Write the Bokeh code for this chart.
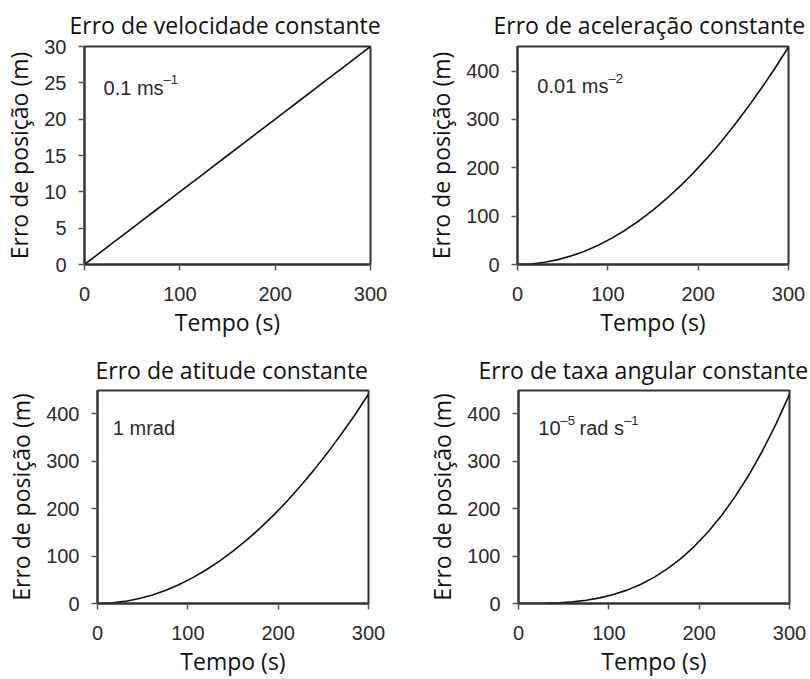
from bokeh.plotting import figure
from bokeh.layouts import column, row
from bokeh.models import Range1d, Label, FixedTicker
from bokeh.embed import file_html
from bokeh.resources import INLINE

# ---- data ----
time_s = [0, 15, 30, 45, 60, 75, 90, 105, 120, 135, 150,
          165, 180, 195, 210, 225, 240, 255, 270, 285, 300]
vel_err = [0, 1.5, 3, 4.5, 6, 7.5, 9, 10.5, 12, 13.5, 15,
           16.5, 18, 19.5, 21, 22.5, 24, 25.5, 27, 28.5, 30]
acc_err = [0, 1.1, 4.5, 10.1, 18, 28.1, 40.5, 55.1, 72, 91.1, 112.5,
           136.1, 162, 190.1, 220.5, 253.1, 288, 325.1, 364.5, 406.1, 450]
att_err = [0, 1.1, 4.4, 9.9, 17.6, 27.6, 39.7, 54, 70.6, 89.3, 110.3,
           133.4, 158.8, 186.3, 216.1, 248.1, 282.2, 318.6, 357.2, 398, 441]
rate_err = [0, 0.06, 0.44, 1.5, 3.5, 6.9, 11.9, 18.9, 28.2, 40.2, 55.1,
            73.4, 95.3, 121.1, 151.3, 186, 225.8, 270.8, 321.5, 378.1, 441]

titles = ["Erro de velocidade constante", "Erro de aceleração constante",
          "Erro de atitude constante", "Erro de taxa angular constante"]
# annotation texts: (text, is_superscript) segments
notes = [
    [("0.1 ms", False), ("–1", True)],
    [("0.01 ms", False), ("–2", True)],
    [("1 mrad", False)],
    [("10", False), ("–5", True), (" rad s", False), ("–1", True)],
]
x_ticks = [0, 100, 200, 300]
y_ticks_vel = [0, 5, 10, 15, 20, 25, 30]
y_ticks_pos = [0, 100, 200, 300, 400]
x_label = "Tempo (s)"
y_label = "Erro de posição (m)"

TITLE_FONT = "Open Sans"
TICK_FONT = "Liberation Sans"
NOTE_SIZE = 20
SUP_SIZE = 13

# Liberation Sans (Arial-metric) advance widths, per em
ADV = {"0": .556, "1": .556, "2": .556, "5": .556, ".": .278, " ": .278,
       "m": .833, "s": .5, "r": .333, "a": .556, "d": .556, "–": .556}


def text_width(s, size):
    return sum(ADV.get(c, .556) for c in s) * size


def make_fig(w, h, ml, mr, mt, mb, ymax, yticks, title, title_off, title_standoff,
             series, note, nx, ny):
    p = figure(width=w, height=h, x_range=Range1d(0, 300), y_range=Range1d(0, ymax),
               output_backend="svg", toolbar_location=None,
               min_border_left=ml, min_border_right=mr,
               min_border_top=mt, min_border_bottom=mb)
    p.title.text = title
    p.title.align = "left"
    p.title.offset = title_off
    p.title.text_font = TITLE_FONT
    p.title.text_font_size = "23px"
    p.title.text_font_style = "normal"
    p.title.text_color = "#111111"
    p.title.standoff = title_standoff
    p.grid.visible = False
    p.outline_line_color = "#333333"
    p.outline_line_width = 2
    p.background_fill_color = "white"
    p.border_fill_color = "white"
    for ax in (p.xaxis[0], p.yaxis[0]):
        ax.axis_line_color = "#333333"
        ax.axis_line_width = 2
        ax.major_tick_line_color = "#555555"
        ax.major_tick_line_width = 1.5
        ax.major_tick_out = 6
        ax.major_tick_in = 0
        ax.minor_tick_line_color = None
        ax.major_label_text_font = TICK_FONT
        ax.major_label_text_font_size = "20px"
        ax.major_label_text_color = "#2a2a2a"
        ax.axis_label_text_font = TITLE_FONT
        ax.axis_label_text_font_size = "23px"
        ax.axis_label_text_font_style = "normal"
        ax.axis_label_text_color = "#111111"
    p.xaxis.ticker = FixedTicker(ticks=x_ticks)
    p.yaxis.ticker = FixedTicker(ticks=yticks)
    p.xaxis.axis_label = x_label
    p.yaxis.axis_label = y_label
    p.xaxis.major_label_standoff = 16
    p.yaxis.major_label_standoff = 12
    p.xaxis.axis_label_standoff = 2
    p.yaxis.axis_label_standoff = 6
    p.line(time_s, series, line_color="#111111", line_width=1.6)
    dx = 0.0
    for seg, sup in note:
        size = SUP_SIZE if sup else NOTE_SIZE
        if seg.startswith(" "):
            dx += text_width(" ", size) * 0.8
            seg = seg.lstrip()
        p.add_layout(Label(x=nx, y=ny, x_offset=dx, y_offset=8 if sup else 0,
                           text=seg, text_font=TICK_FONT,
                           text_font_size=f"{size}px", text_color="#2a2a2a",
                           text_baseline="alphabetic"))
        dx += text_width(seg, size)
    return p


p1 = make_fig(403, 340, 83, 33, 44, 75, 30, y_ticks_vel, titles[0], -15, 12,
              vel_err, notes[0], 20, 24.3)
p2 = make_fig(407, 340, 114, 22, 44, 76, 451, y_ticks_pos, titles[1], -24, 12,
              acc_err, notes[1], 22, 369)
p3 = make_fig(403, 339, 97, 35, 50, 71, 449, y_ticks_pos, titles[2], -2, 10,
              att_err, notes[2], 17, 371)
p4 = make_fig(407, 339, 115, 21, 50, 71, 449, y_ticks_pos, titles[3], -40, 10,
              rate_err, notes[3], 22, 369)

layout = column(row(p1, p2), row(p3, p4))
open("out.html", "w").write(file_html(layout, INLINE))
